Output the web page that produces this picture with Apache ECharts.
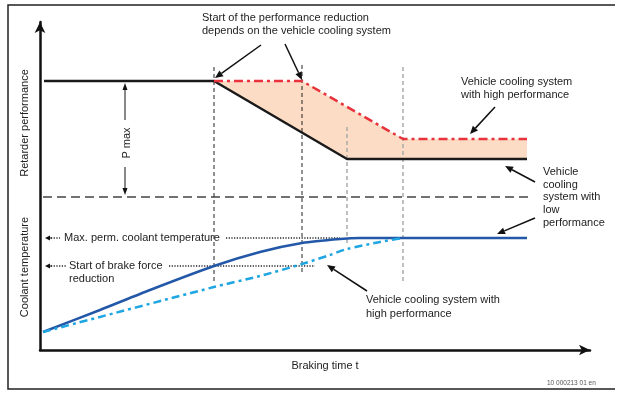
<!DOCTYPE html>
<html>
<head>
<meta charset="utf-8">
<script src="https://cdn.jsdelivr.net/npm/echarts@6/dist/echarts.min.js"></script>
<style>html,body{margin:0;padding:0;background:#fff}#c{width:621px;height:394px}</style>
</head>
<body>
<div id="c"></div>
<script>
// ---- data (schematic units: x = braking time, y = level) ----
const lowCoolTime = [4, 174, 307, 487];
const lowCoolPerf = [269, 269, 191, 191];
const highCoolTime = [174, 262, 363, 487];
const highCoolPerf = [269, 269, 211, 211];
const tempLowTime = [3, 60, 110, 174, 220, 262, 300, 320, 487];
const tempLowVal = [18, 40, 60, 84, 98, 107, 111, 112, 112];
const tempHighTime = [3, 174, 220, 262, 290, 307, 340, 363];
const tempHighVal = [18, 63, 74, 86, 95, 101, 108, 112];
const maxPermTemp = 112;
const brakeReductionTemp = 84;
const dividerLevel = 153;
const startTimes = [174, 262];
const endTimes = [307, 363];

const zip = (a, b) => a.map((v, i) => [v, b[i]]);
const FONT = '11px "Liberation Sans", Arial, sans-serif';
const TXT = '#222';

function txt(x, y, text, extra) {
  return Object.assign({ type: 'text', x: x, y: y, silent: true,
    style: Object.assign({ text: text, font: FONT, fill: TXT, align: 'left', verticalAlign: 'middle' }, (extra && extra.style) || {}) },
    extra && extra.rotation !== undefined ? { rotation: extra.rotation } : {});
}
function arrow(x1, y1, x2, y2, opt) {
  opt = opt || {};
  const w = opt.width || 1.5, hl = opt.head || 8, hw = opt.headW || 3.5, col = opt.color || '#111';
  const ang = Math.atan2(y2 - y1, x2 - x1);
  const bx = x2 - hl * Math.cos(ang), by = y2 - hl * Math.sin(ang);
  const px = -Math.sin(ang) * hw, py = Math.cos(ang) * hw;
  return { type: 'group', silent: true, children: [
    { type: 'line', shape: { x1: x1, y1: y1, x2: bx, y2: by }, style: { stroke: col, lineWidth: w, lineDash: opt.dash || null } },
    { type: 'polygon', shape: { points: [[x2, y2], [bx + px, by + py], [bx - px, by - py]] }, style: { fill: col } }
  ]};
}

const chart = echarts.init(document.getElementById('c'), null, { renderer: 'canvas' });

const guide = (pts, color, dash, width) => ({
  type: 'line', data: pts, showSymbol: false, clip: false, silent: true, animation: false,
  lineStyle: { color: color, type: dash, width: width }, z: 1
});

const option = {
  animation: false,
  backgroundColor: '#fff',
  grid: { left: 40, right: 31, top: 22, bottom: 44 },
  xAxis: { type: 'value', min: 0, max: 550,
    axisLine: { show: true, onZero: false, symbol: ['none', 'arrow'], symbolSize: [8, 11], lineStyle: { color: '#111', width: 2.5 } },
    axisTick: { show: false }, axisLabel: { show: false }, splitLine: { show: false } },
  yAxis: { type: 'value', min: 0, max: 328,
    axisLine: { show: true, onZero: false, symbol: ['none', 'arrow'], symbolSize: [8, 11], lineStyle: { color: '#111', width: 2.5 } },
    axisTick: { show: false }, axisLabel: { show: false }, splitLine: { show: false } },
  series: [
    { type: 'custom', silent: true, clip: false, z: 0, data: [[0, 0]],
      renderItem: function (params, api) {
        const pts = zip(highCoolTime, highCoolPerf).concat(zip(lowCoolTime, lowCoolPerf).filter(p => p[0] >= highCoolTime[0]).reverse())
          .map(p => api.coord(p));
        return { type: 'polygon', shape: { points: pts }, style: { fill: '#fcdcc4' } };
      } },
    guide([[-25, dividerLevel], [488, dividerLevel]], '#444', [9, 5], 1.5),
    guide([[startTimes[0], 283], [startTimes[0], 68]], '#222', [4, 3], 1),
    guide([[startTimes[1], 285], [startTimes[1], 75]], '#222', [4, 3], 1),
    guide([[endTimes[0], 223], [endTimes[0], 107]], '#aaa', [4, 3], 1.5),
    guide([[endTimes[1], 283], [endTimes[1], 69]], '#aaa', [4, 3], 1.5),
    guide([[186, maxPermTemp], [300, maxPermTemp]], '#222', [1.2, 1.5], 1.5),
    guide([[129, brakeReductionTemp], [275, brakeReductionTemp]], '#222', [1.2, 1.5], 1.5),
    guide([[11, maxPermTemp], [20, maxPermTemp]], '#222', [1.2, 1.5], 1.5),
    guide([[11, brakeReductionTemp], [27, brakeReductionTemp]], '#222', [1.2, 1.5], 1.5),
    { type: 'line', name: 'Low performance cooling', data: zip(lowCoolTime, lowCoolPerf), showSymbol: false, z: 3,
      lineStyle: { color: '#1a1a1a', width: 2.5 } },
    { type: 'line', name: 'High performance cooling', data: zip(highCoolTime, highCoolPerf), showSymbol: false, z: 3,
      lineStyle: { color: '#e8333c', width: 2.5, type: [9, 4, 3, 4] } },
    { type: 'line', name: 'Coolant temp low', data: zip(tempLowTime, tempLowVal), showSymbol: false, smooth: 0.25, z: 3,
      lineStyle: { color: '#2358a8', width: 2.5 } },
    { type: 'line', name: 'Coolant temp high', data: zip(tempHighTime, tempHighVal), showSymbol: false, smooth: 0.25, z: 4,
      lineStyle: { color: '#1ea6e2', width: 2.5, type: [8, 4, 3, 4] } }
  ],
  graphic: [
    { type: 'polyline', silent: true, shape: { points: [[615, 5], [8, 5], [8, 389], [615, 389]] }, style: { stroke: '#222', lineWidth: 1.5, fill: null } },
    txt(202, 18, 'Start of the performance reduction'),
    txt(202, 31, 'depends on the vehicle cooling system'),
    arrow(261, 45, 215, 78),
    arrow(285, 44, 302, 80),
    txt(461, 82, 'Vehicle cooling system'),
    txt(461, 95, 'with high performance'),
    arrow(495, 107, 470, 134),
    txt(543, 172, 'Vehicle'),
    txt(543, 184.5, 'cooling'),
    txt(543, 197, 'system with'),
    txt(543, 210, 'low'),
    txt(543, 223, 'performance'),
    arrow(535, 182, 505, 166),
    arrow(535, 218, 497, 234),
    txt(366, 300, 'Vehicle cooling system with'),
    txt(366, 314, 'high performance'),
    arrow(367, 291, 327, 265),
    txt(64, 238, 'Max. perm. coolant temperature'),
    txt(69, 266, 'Start of brake force'),
    txt(69, 279, 'reduction'),
    arrow(52, 238, 45, 238, { head: 5, headW: 2.5, width: 1 }),
    arrow(52, 266, 45, 266, { head: 5, headW: 2.5, width: 1 }),
    arrow(125, 120, 125, 83, { head: 7, headW: 2.5, width: 1 }),
    arrow(125, 167, 125, 195, { head: 7, headW: 2.5, width: 1 }),
    txt(127, 143, 'P max', { rotation: Math.PI / 2, style: { align: 'center' } }),
    txt(25, 123, 'Retarder performance', { rotation: Math.PI / 2, style: { align: 'center' } }),
    txt(25, 267, 'Coolant temperature', { rotation: Math.PI / 2, style: { align: 'center' } }),
    txt(325, 366, 'Braking time t', { style: { align: 'center' } }),
    txt(547, 383, '10 000213 01 en', { style: { font: '6.5px "Liberation Sans", Arial, sans-serif', fill: '#555' } })
  ]
};
chart.setOption(option);
</script>
</body>
</html>
